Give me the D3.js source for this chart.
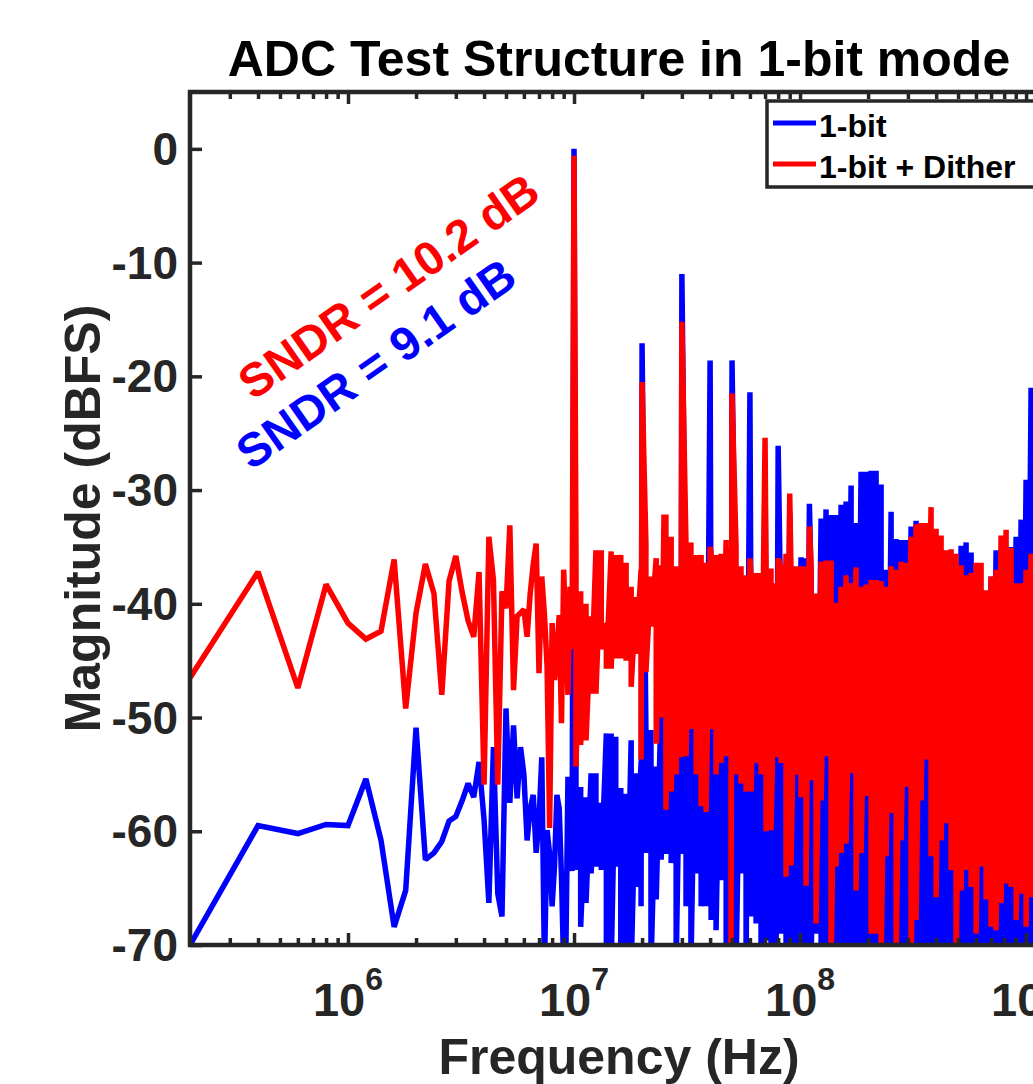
<!DOCTYPE html>
<html>
<head>
<meta charset="utf-8">
<script src="https://cdn.jsdelivr.net/npm/d3@7/dist/d3.min.js"></script>
<style>
  html, body { margin: 0; padding: 0; background: #fff; }
  svg { display: block; }
  text { font-family: "Liberation Sans", Arial, Helvetica, sans-serif; font-weight: bold; }
</style>
</head>
<body>
<div id="chart"></div>
<script>
// ---------------- data ----------------
const seriesNames = ["1-bit", "1-bit + Dither"];
const titleText = "ADC Test Structure in 1-bit mode";
const xLabel = "Frequency (Hz)";
const yLabel = "Magnitude (dBFS)";
const sndrLabels = ["SNDR = 9.1 dB", "SNDR = 10.2 dB"];

const yTicks = [-70, -60, -50, -40, -30, -20, -10, 0];
const xTickExponents = [6, 7, 8, 9];

// FFT bins 1..50 (200 kHz spacing), MHz
const freqLowMHz = [0.2, 0.4, 0.6, 0.8, 1.0, 1.2, 1.4, 1.6, 1.8, 2.0,
  2.2, 2.4, 2.6, 2.8, 3.0, 3.2, 3.4, 3.6, 3.8, 4.0,
  4.2, 4.4, 4.6, 4.8, 5.0, 5.2, 5.4, 5.6, 5.8, 6.0,
  6.2, 6.4, 6.6, 6.8, 7.0, 7.2, 7.4, 7.6, 7.8, 8.0,
  8.2, 8.4, 8.6, 8.8, 9.0, 9.2, 9.4, 9.6, 9.8, 10.0];

const oneBitLow = [-70.0, -59.5, -60.2, -59.4, -59.5, -55.4, -60.8, -68.4, -65.2, -50.9,
  -62.5, -61.9, -60.9, -59.1, -58.7, -57.3, -55.8, -57.0, -53.9, -59.0,
  -66.3, -52.6, -65.5, -67.5, -49.2, -57.5, -50.7, -57.1, -52.6, -55.0,
  -60.8, -58.0, -56.8, -61.9, -59.0, -53.5, -72.0, -59.9, -62.0, -66.6,
  -63.0, -56.8, -58.0, -64.0, -72.0, -71.0, -55.2, -58.0, -63.5, 0.0];

const ditherLow = [-46.5, -37.2, -47.4, -38.3, -41.7, -43.1, -42.4, -36.1, -49.2, -40.8,
  -36.5, -39.1, -48.0, -38.0, -35.8, -39.0, -41.5, -42.9, -37.2, -55.9,
  -34.1, -37.9, -55.9, -38.9, -40.4, -33.1, -47.6, -41.1, -40.8, -40.5,
  -42.9, -39.1, -36.5, -34.7, -46.1, -37.6, -41.0, -45.5, -59.7, -41.7,
  -46.7, -44.3, -41.0, -50.5, -37.0, -42.9, -48.0, -38.5, -44.0, -0.6];

// dense part of the spectrum: per-frequency upper / lower extent of the trace, MHz
const freqHighMHz = [10.2, 10.7, 11.3, 11.9, 12.5, 13.2, 13.9, 14.6, 15.3, 16.1,
  17.0, 17.9, 18.8, 19.8, 20.8, 21.9, 23.1, 24.3, 25.5, 26.9,
  28.3, 29.7, 31.3, 32.9, 34.7, 36.5, 38.4, 40.4, 42.5, 44.7,
  47.1, 49.5, 52.1, 54.8, 57.7, 60.7, 63.9, 67.2, 70.7, 74.4,
  78.3, 82.4, 86.7, 91.2, 96.0, 101.0, 106.3, 111.9, 117.7, 123.9,
  130.3, 137.2, 144.3, 151.9, 159.8, 168.2, 176.9, 186.2, 195.9, 206.2,
  216.9, 228.3, 240.2, 252.8, 266.0, 279.9, 294.5, 309.9, 326.1, 343.1,
  361.1, 379.9, 399.8, 420.7, 442.7, 465.8, 490.1, 515.7, 542.7, 571.1,
  600.9, 632.3, 665.4, 700.1, 736.7, 775.2, 815.7, 858.4, 903.2, 950.5,
  1000.0, 1052.3, 1107.3, 1165.1, 1226.0];

const ditherUpper = [-35.3, -38.9, -40.0, -41.1, -35.3, -35.3, -41.7, -35.4, -35.7, -35.7,
  -36.4, -38.5, -39.4, -37.0, -34.7, -37.6, -36.0, -36.6, -32.4, -34.1,
  -36.7, -37.3, -35.0, -34.6, -35.7, -35.7, -36.4, -35.6, -35.7, -35.6,
  -34.4, -35.0, -35.0, -36.7, -37.5, -37.6, -37.3, -37.3, -36.9, -36.9,
  -38.2, -37.0, -35.6, -37.2, -36.7, -36.7, -36.7, -36.7, -39.1, -36.3,
  -36.2, -36.2, -39.9, -38.5, -37.5, -38.2, -36.8, -38.5, -38.3, -37.9,
  -37.9, -38.0, -38.5, -36.7, -37.0, -36.3, -36.4, -34.1, -33.0, -32.9,
  -32.9, -31.5, -33.4, -34.0, -35.3, -35.2, -35.6, -36.6, -37.5, -37.3,
  -36.4, -36.4, -38.8, -37.6, -37.0, -34.0, -33.5, -35.1, -38.2, -38.2,
  -37.0, -35.6, -36.0, -38.0, -37.0];

const ditherLower = [-54.3, -52.4, -52.0, -47.9, -47.9, -44.0, -45.7, -45.7, -44.8, -44.8,
  -45.0, -47.3, -44.4, -53.7, -46.0, -42.0, -52.3, -50.0, -58.1, -56.5,
  -55.0, -53.5, -53.4, -51.0, -55.0, -57.8, -58.3, -51.0, -55.0, -54.0,
  -53.4, -70.5, -55.0, -55.8, -56.5, -56.5, -54.0, -55.0, -60.0, -59.9,
  -53.5, -54.0, -64.0, -63.0, -55.0, -57.0, -64.8, -55.5, -68.1, -57.3,
  -53.4, -72.0, -63.1, -61.9, -61.1, -54.9, -65.2, -61.9, -56.9, -69.0,
  -69.0, -72.0, -62.2, -58.4, -72.0, -60.8, -56.1, -72.0, -67.8, -57.3,
  -53.7, -62.2, -65.8, -60.8, -59.3, -63.4, -72.0, -65.2, -63.4, -64.9,
  -69.0, -63.1, -66.0, -68.4, -68.7, -66.3, -64.6, -64.9, -67.8, -65.5,
  -68.4, -65.8, -66.0, -68.0, -65.0];

const oneBitUpper = [-54.4, -56.1, -57.0, -54.9, -54.9, -57.5, -51.4, -51.4, -51.7, -56.2,
  -56.7, -52.0, -54.9, -53.9, -51.1, -51.1, -54.3, -48.5, -46.0, -47.0,
  -45.0, -46.0, -44.0, -47.0, -45.0, -46.0, -44.0, -45.0, -47.0, -44.0,
  -46.0, -45.0, -44.0, -46.0, -45.0, -44.0, -46.0, -45.0, -43.0, -45.0,
  -44.0, -43.0, -45.0, -42.0, -40.0, -35.9, -36.0, -38.0, -40.0, -32.5,
  -31.7, -32.2, -32.2, -31.3, -31.0, -29.6, -32.9, -28.4, -28.4, -28.3,
  -28.3, -29.5, -37.0, -31.9, -34.3, -34.4, -34.4, -33.2, -32.7, -34.0,
  -34.0, -34.0, -36.0, -37.0, -38.0, -38.0, -38.0, -34.9, -34.6, -35.5,
  -38.0, -39.0, -40.0, -37.6, -35.3, -36.0, -36.0, -35.0, -34.1, -32.6,
  -29.1, -21.0, -24.0, -27.0, -30.0];

const oneBitLower = [-63.4, -68.4, -66.3, -63.7, -63.1, -63.4, -72.0, -72.0, -63.1, -72.0,
  -72.0, -72.0, -64.9, -66.6, -61.9, -72.0, -66.0, -62.5, -62.0, -62.8,
  -72.0, -62.0, -66.6, -72.0, -63.7, -66.6, -66.6, -67.8, -68.7, -64.3,
  -72.0, -72.0, -72.0, -63.7, -72.0, -67.5, -68.1, -72.0, -69.6, -72.0,
  -72.0, -69.0, -72.0, -72.0, -72.0, -72.0, -72.0, -72.0, -69.0, -72.0,
  -72.0, -72.0, -72.0, -72.0, -72.0, -72.0, -72.0, -72.0, -72.0, -72.0,
  -72.0, -72.0, -72.0, -72.0, -72.0, -72.0, -72.0, -72.0, -72.0, -72.0,
  -72.0, -72.0, -72.0, -72.0, -72.0, -72.0, -72.0, -72.0, -72.0, -72.0,
  -72.0, -72.0, -72.0, -72.0, -72.0, -72.0, -72.0, -72.0, -72.0, -72.0,
  -72.0, -72.0, -72.0, -72.0, -72.0];

// harmonic / spur bins, MHz
const spurFreqMHz = [20, 25, 30, 40, 50, 60, 70, 80, 90, 110];
const oneBitSpurs = [-17.1, null, -11.0, -18.6, -18.6, -21.4, -28.0, -26.1, -32.0, -31.2];
const ditherSpurs = [-20.5, -32.4, -15.2, -35.0, -21.5, -36.0, -25.4, -36.0, -30.3, -33.2];

// ---------------- layout ----------------
const W = 1033, H = 1084;
const plot = { left: 190, right: 1048, top: 92, bottom: 945 };
const axisColor = "#262626";
const colors = ["#0000ff", "#ff0000"];

const svg = d3.select("#chart").append("svg")
  .attr("width", W).attr("height", H)
  .attr("viewBox", `0 0 ${W} ${H}`);

const x = d3.scaleLog().domain([2e5, 1.25e9]).range([plot.left, plot.right]);
const y = d3.scaleLinear().domain([-70, 5]).range([plot.bottom, plot.top]);

svg.append("defs").append("clipPath").attr("id", "plotClip")
  .append("rect")
  .attr("x", plot.left).attr("y", plot.top)
  .attr("width", plot.right - plot.left).attr("height", plot.bottom - plot.top);

function buildSeries(low, upper, lower, spurs) {
  const pts = freqLowMHz.map((f, i) => ({ f, v: low[i], o: 0 }));
  const dense = [];
  freqHighMHz.forEach((f, i) => {
    dense.push({ f, v: upper[i], o: 0 });
    dense.push({ f, v: lower[i], o: 1 });
  });
  spurFreqMHz.forEach((f, i) => {
    if (spurs[i] !== null) dense.push({ f, v: spurs[i], o: 0 });
  });
  dense.sort((a, b) => (a.f - b.f) || (a.o - b.o));
  return pts.concat(dense);
}

const series = [
  buildSeries(oneBitLow, oneBitUpper, oneBitLower, oneBitSpurs),
  buildSeries(ditherLow, ditherUpper, ditherLower, ditherSpurs)
];

const line = d3.line().x(d => x(d.f * 1e6)).y(d => y(d.v));

const gData = svg.append("g").attr("clip-path", "url(#plotClip)");
series.forEach((s, i) => {
  gData.append("path")
    .datum(s)
    .attr("d", line)
    .attr("fill", "none")
    .attr("stroke", colors[i])
    .attr("stroke-width", 5.5)
    .attr("stroke-linejoin", "miter")
    .attr("stroke-miterlimit", 2);
});

// ---------------- axes ----------------
const majorX = xTickExponents.map(e => Math.pow(10, e));
const minorX = [];
[5, 6, 7, 8, 9].forEach(e => {
  for (let m = 2; m <= 9; m++) {
    const v = m * Math.pow(10, e);
    if (v > 2e5 && v < 1.25e9) minorX.push(v);
  }
});

function styleAxis(g) {
  g.select(".domain").remove();
  g.selectAll(".tick line").attr("stroke", axisColor).attr("stroke-width", 3.5);
  g.selectAll(".tick text").remove();
}

svg.append("g").attr("transform", `translate(0,${plot.bottom})`)
  .call(d3.axisBottom(x).tickValues(majorX).tickSize(-12).tickSizeOuter(0)).call(styleAxis);
svg.append("g").attr("transform", `translate(0,${plot.bottom})`)
  .call(d3.axisBottom(x).tickValues(minorX).tickSize(-7).tickSizeOuter(0)).call(styleAxis);
svg.append("g").attr("transform", `translate(0,${plot.top})`)
  .call(d3.axisTop(x).tickValues(majorX).tickSize(-12).tickSizeOuter(0)).call(styleAxis);
svg.append("g").attr("transform", `translate(0,${plot.top})`)
  .call(d3.axisTop(x).tickValues(minorX).tickSize(-7).tickSizeOuter(0)).call(styleAxis);
svg.append("g").attr("transform", `translate(${plot.left},0)`)
  .call(d3.axisLeft(y).tickValues(yTicks).tickSize(-12).tickSizeOuter(0)).call(styleAxis);
svg.append("g").attr("transform", `translate(${plot.right},0)`)
  .call(d3.axisRight(y).tickValues(yTicks).tickSize(-12).tickSizeOuter(0)).call(styleAxis);

// frame
svg.append("rect")
  .attr("x", plot.left).attr("y", plot.top)
  .attr("width", plot.right - plot.left).attr("height", plot.bottom - plot.top)
  .attr("fill", "none").attr("stroke", axisColor).attr("stroke-width", 4.5);

// y tick labels
svg.append("g").selectAll("text").data(yTicks).join("text")
  .attr("x", plot.left - 12)
  .attr("y", d => y(d) + 16)
  .attr("text-anchor", "end")
  .attr("font-size", 46)
  .attr("fill", axisColor)
  .text(d => d);

// x tick labels 10^n
const xl = svg.append("g").selectAll("text").data(xTickExponents).join("text")
  .attr("x", d => x(Math.pow(10, d)))
  .attr("y", 1016)
  .attr("text-anchor", "middle")
  .attr("fill", axisColor);
xl.append("tspan").attr("font-size", 47).text("10");
xl.append("tspan").attr("font-size", 32).attr("dy", -26).text(d => d);

// axis labels
svg.append("text")
  .attr("x", (plot.left + plot.right) / 2).attr("y", 1074)
  .attr("text-anchor", "middle").attr("font-size", 50).attr("fill", axisColor)
  .text(xLabel);
svg.append("text")
  .attr("transform", `translate(100,${(plot.top + plot.bottom) / 2}) rotate(-90)`)
  .attr("text-anchor", "middle").attr("font-size", 50).attr("fill", axisColor)
  .text(yLabel);

// title
svg.append("text")
  .attr("x", (plot.left + plot.right) / 2).attr("y", 76)
  .attr("text-anchor", "middle").attr("font-size", 50).attr("fill", "#000")
  .text(titleText);

// SNDR annotations
const sndrPos = [[251, 471], [253, 401]];
sndrLabels.forEach((t, i) => {
  svg.append("text")
    .attr("transform", `translate(${sndrPos[i][0]},${sndrPos[i][1]}) rotate(-35)`)
    .attr("font-size", 47)
    .attr("fill", colors[i])
    .text(t);
});

// legend
const lg = svg.append("g");
lg.append("rect")
  .attr("x", 767).attr("y", 101).attr("width", 275).attr("height", 86)
  .attr("fill", "#fff").attr("stroke", axisColor).attr("stroke-width", 3.5);
seriesNames.forEach((n, i) => {
  const yy = 123 + i * 41;
  lg.append("line")
    .attr("x1", 773).attr("x2", 816).attr("y1", yy).attr("y2", yy)
    .attr("stroke", colors[i]).attr("stroke-width", 5);
  lg.append("text")
    .attr("x", 819).attr("y", yy + 14)
    .attr("font-size", 32).attr("fill", "#000")
    .text(n);
});
</script>
</body>
</html>
